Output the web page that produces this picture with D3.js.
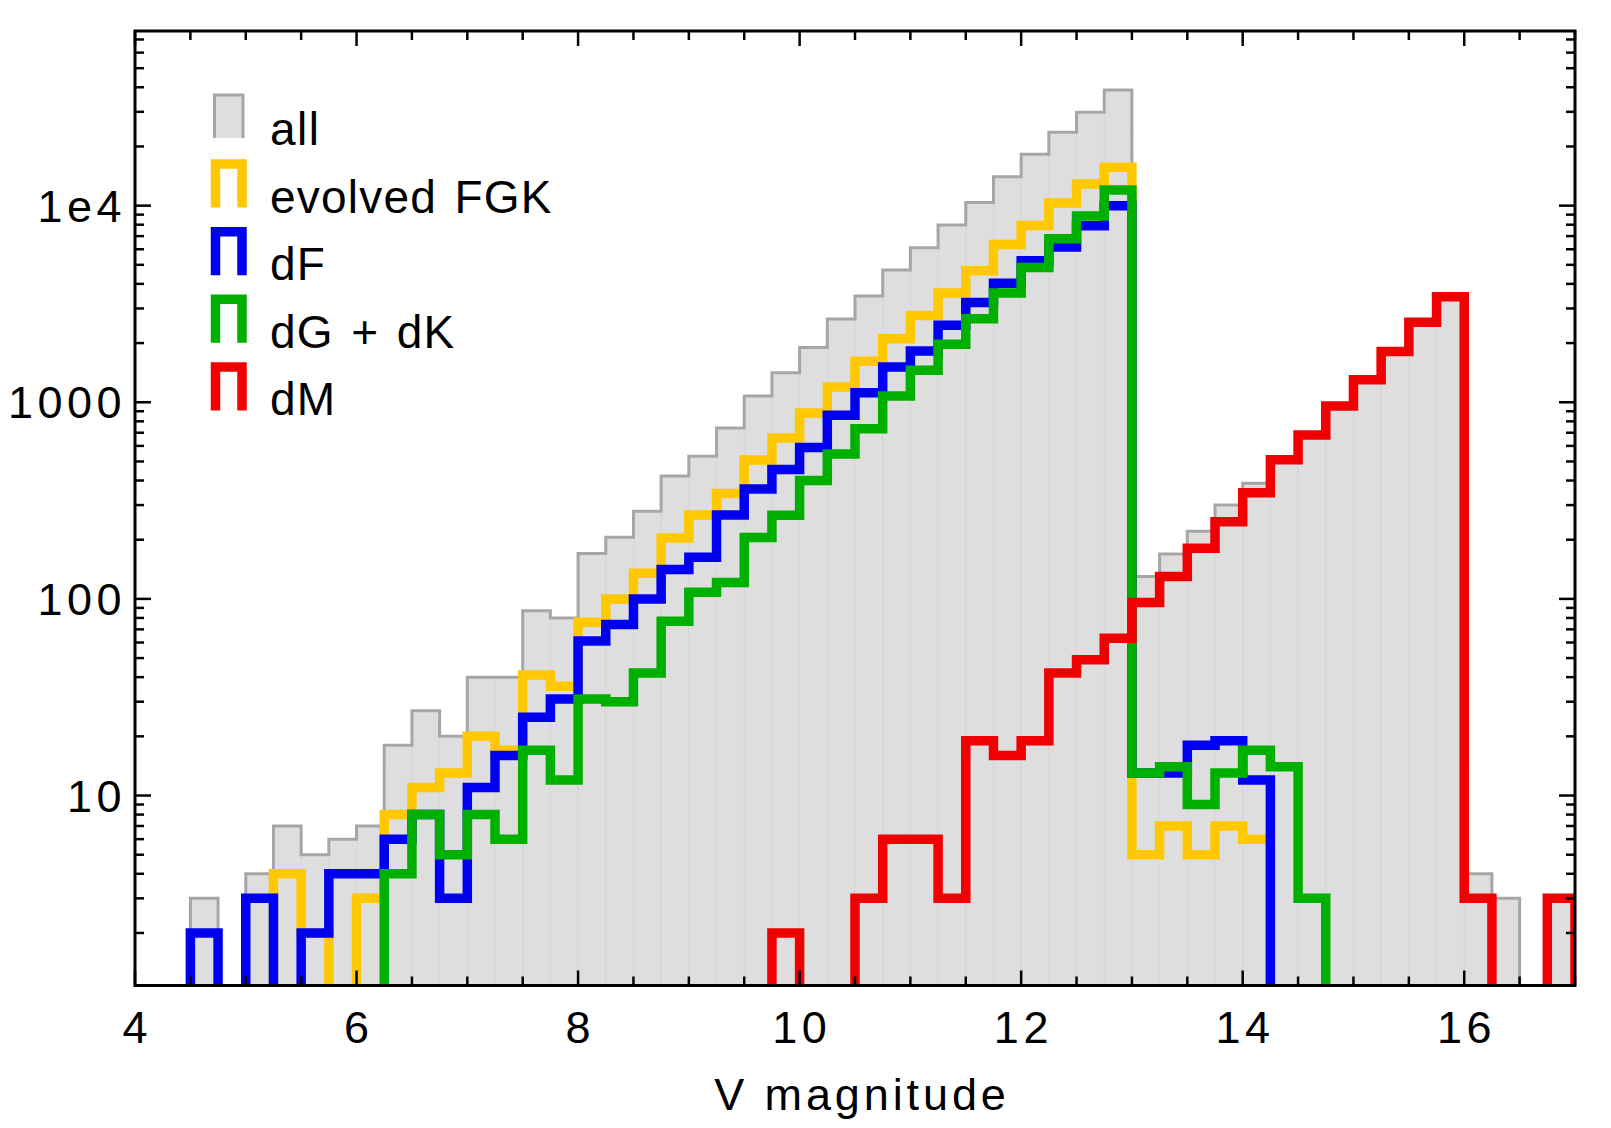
<!DOCTYPE html>
<html><head><meta charset="utf-8">
<script src="https://cdn.jsdelivr.net/npm/d3@7"></script>
<style>
body{margin:0;background:#fff;}
svg{display:block;}
text{font-family:"Liberation Sans",Arial,Helvetica,sans-serif;fill:#000;}
</style>
</head><body>
<svg id="chart" width="1611" height="1128"></svg>
<script>
// ---- data: 0.25-mag bins from V=4.0 to V=17.0 (52 bins) ----
const binStart = 4.0;
const binWidth = 0.25;
const allStars = [0,0,3,1,4,7,5,6,7,18,27,20,40,40,87,80,170,206,279,422,532,740,1075,1415,1897,2654,3474,4711,6115,7978,10360,14030,18240,23600,29840,38700,130,169,221,300,387,530,690,960,1300,1810,2550,3450,4,3,1,3];
const evolvedFGK = [0,0,0,0,1,4,2,1,3,8,11,13,20,17,41,36,76,100,135,204,267,344,509,659,883,1197,1616,2107,2760,3597,4672,6336,7915,10300,12890,15660,5,7,5,7,6,0,0,0,0,0,0,0,0,0,0,0];
const dF = [0,0,2,0,3,1,2,4,4,6,8,3,11,16,25,31,61,74,100,141,163,267,362,455,588,859,1119,1513,1825,2465,3215,4030,5250,6170,7910,10000,13,13,18,19,12,0,0,0,0,0,0,0,0,0,0,0];
const dGdK = [0,0,0,0,0,0,0,0,0,4,8,5,8,6,17,12,31,30,42,77,108,121,205,266,400,546,734,1076,1455,1973,2663,3596,4843,6795,8860,12020,13,14,9,13,17,14,3,0,0,0,0,0,0,0,0,0];
const dM = [0,0,0,0,0,0,0,0,0,0,0,0,0,0,0,0,0,0,0,0,0,0,0,2,0,0,3,6,6,3,19,16,19,42,49,63,96,130,181,247,347,510,682,958,1300,1810,2550,3440,3,0,0,3];

const seriesNames = ["evolved FGK","dF","dG + dK","dM"];
const seriesColors = ["#ffc800","#0000f0","#00b000","#f00000"];
const allLabel = "all";
const xTickValues = [4,6,8,10,12,14,16];
const yTickValues = [10,100,1000,10000];
const yTickLabels = ["10","100","1000","1e4"];
const xTitle = "V magnitude";

(function(){
// ---- layout ----
const pL = 135, pR = 1575, pT = 31, pB = 985.5;
const svg = d3.select("#chart");
const x = d3.scaleLinear().domain([4,17]).range([pL,pR]);
const y = d3.scaleLog().domain([1.081,77300]).range([pB,pT]);
const floorV = 0.05;
const nb = allStars.length;
const edges = d3.range(nb).map(i => binStart + i*binWidth);
const xEnd = binStart + nb*binWidth;

svg.append("defs").append("clipPath").attr("id","plotclip")
  .append("rect").attr("x",pL).attr("y",pT).attr("width",pR-pL).attr("height",pB-pT);

const g = svg.append("g").attr("clip-path","url(#plotclip)");

function stepPoints(vals){
  const pts = [[binStart, floorV]];
  vals.forEach((v,i)=>pts.push([edges[i], Math.max(v,floorV)]));
  pts.push([xEnd, Math.max(vals[vals.length-1],floorV)]);
  pts.push([xEnd, floorV]);
  return pts;
}
const stepLine = d3.line().x(d=>x(d[0])).y(d=>y(d[1])).curve(d3.curveStepAfter);

// gray "all" histogram
g.append("g").selectAll("rect").data(allStars.map((v,i)=>({v,i})).filter(d=>d.v>0))
  .join("rect")
  .attr("x",d=>x(edges[d.i]))
  .attr("width",d=>x(edges[d.i]+binWidth)-x(edges[d.i]))
  .attr("y",d=>y(d.v))
  .attr("height",d=>pB+10-y(d.v))
  .attr("fill","#dedede")
  .attr("stroke","#d6d6d6")
  .attr("stroke-width",1);
g.append("path").attr("d",stepLine(stepPoints(allStars)))
  .attr("fill","none").attr("stroke","#a6a6a6").attr("stroke-width",3);

const seriesData = [evolvedFGK, dF, dGdK, dM];
seriesData.forEach((vals,k)=>{
  g.append("path").attr("d",stepLine(stepPoints(vals)))
    .attr("fill","none").attr("stroke",seriesColors[k])
    .attr("stroke-width",9.5).attr("stroke-linejoin","miter").attr("stroke-linecap","butt");
});

// ---- ticks ----
const ax = svg.append("g").attr("stroke","#000").attr("stroke-width",2.5);
d3.range(4,17.001,0.5).forEach(v=>{
  const major = Math.abs(v/2 - Math.round(v/2))<1e-6;
  const len = major?15:9;
  ax.append("line").attr("x1",x(v)).attr("x2",x(v)).attr("y1",pB).attr("y2",pB-len);
  ax.append("line").attr("x1",x(v)).attr("x2",x(v)).attr("y1",pT).attr("y2",pT+len);
});
const yMinor = [];
[1,10,100,1000,10000].forEach(d=>{for(let m=1;m<=9;m++){const v=d*m; if(v>=y.domain()[0]&&v<=y.domain()[1]) yMinor.push(v);}});
yMinor.forEach(v=>{
  const major = yTickValues.includes(v);
  const len = major?16:9;
  ax.append("line").attr("x1",pL).attr("x2",pL+len).attr("y1",y(v)).attr("y2",y(v));
  ax.append("line").attr("x1",pR).attr("x2",pR-len).attr("y1",y(v)).attr("y2",y(v));
});

// frame
svg.append("rect").attr("x",pL).attr("y",pT).attr("width",pR-pL).attr("height",pB-pT)
  .attr("fill","none").attr("stroke","#000").attr("stroke-width",3);

// tick labels
const fs = 45, ls = 4.5;
svg.append("g").selectAll("text").data(xTickValues).join("text")
  .attr("x",d=>x(d)+ls/2).attr("y",1043).attr("text-anchor","middle")
  .attr("font-size",fs).attr("letter-spacing",ls).text(d=>d);
svg.append("g").selectAll("text").data(yTickValues).join("text")
  .attr("x",126).attr("y",d=>y(d)+16).attr("text-anchor","end")
  .attr("font-size",fs).attr("letter-spacing",ls).text((d,i)=>yTickLabels[i]);
svg.append("text").attr("x",862).attr("y",1110).attr("text-anchor","middle")
  .attr("font-size",fs).attr("letter-spacing",3.9).text(xTitle);

// ---- legend ----
const lg = svg.append("g");
const rowBase = i => 145 + 67.6*i;
lg.append("rect").attr("x",214.5).attr("y",rowBase(0)-50).attr("width",28.5).attr("height",43)
  .attr("fill","#dedede");
lg.append("path").attr("d",`M${214.5},${rowBase(0)-7}V${rowBase(0)-50}H${243}V${rowBase(0)-7}`)
  .attr("fill","none").attr("stroke","#a6a6a6").attr("stroke-width",3);
lg.append("text").attr("x",270).attr("y",rowBase(0)).attr("font-size",46).attr("letter-spacing",1.5).text(allLabel);
seriesNames.forEach((nm,k)=>{
  const b = rowBase(k+1);
  lg.append("path").attr("d",`M215.5,${b-5}V${b-48.5}H242V${b-5}`)
    .attr("fill","none").attr("stroke",seriesColors[k]).attr("stroke-width",9.5).attr("stroke-linejoin","miter");
  lg.append("text").attr("x",270).attr("y",b).attr("font-size",46)
    .attr("letter-spacing",1.2).attr("word-spacing",3.5).text(nm);
});
})();
</script>
</body></html>
